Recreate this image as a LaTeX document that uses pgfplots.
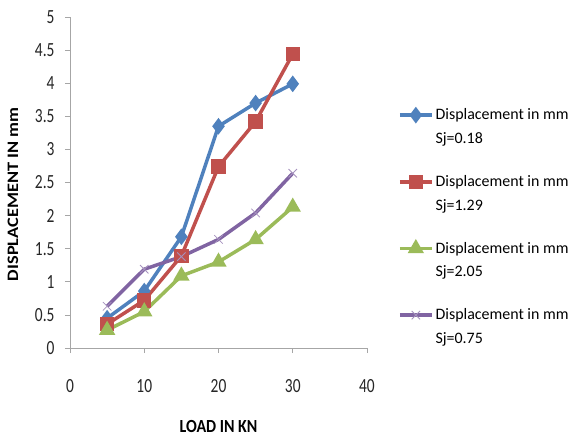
\documentclass[border=0pt]{standalone}
\usepackage{pgfplots}
\pgfplotsset{compat=1.18}
\usepackage{fontspec}
\setmainfont{Carlito}
\definecolor{cblue}{HTML}{4F81BD}
\definecolor{cred}{HTML}{C0504D}
\definecolor{cgreen}{HTML}{9BBB59}
\definecolor{cpurple}{HTML}{8064A2}
\begin{document}
\begin{tikzpicture}
\path[use as bounding box] (-70bp,-89bp) rectangle (501bp,348bp);
\begin{axis}[
  scale only axis,
  width=297bp, height=331bp,
  xmin=0, xmax=40, ymin=0, ymax=5,
  xtick={0,10,20,30,40},
  ytick={0,0.5,1,1.5,2,2.5,3,3.5,4,4.5,5},
  axis lines*=left,
  axis line style={draw=gray!70, line width=0.8pt},
  tick align=outside,
  major tick length=5bp,
  tick style={draw=gray!70, line width=0.8pt},
  /pgf/number format/assume math mode=true,
  ticklabel style={font=\fontsize{15.5}{18}\selectfont, text=black!85, yscale=1.3},
  xticklabel style={yshift=-17bp},
  yticklabel style={xshift=-7bp},
  xlabel={\textbf{LOAD IN KN}},
  ylabel={\textbf{DISPLACEMENT IN mm}},
  label style={font=\fontsize{16}{18}\selectfont},
  xlabel style={at={(axis description cs:0.5,0)}, anchor=center, yshift=-78bp, yscale=1.16},
  ylabel style={at={(axis description cs:-0.192,0.464)}, anchor=center, xscale=1.15},
  legend style={at={(1.094,0.735)}, anchor=north west, draw=none,
    font=\fontsize{16}{23.5}\selectfont, nodes={align=left},
    row sep=26.7bp, cells={anchor=west}},
  legend cell align=left,
  legend image code/.code={\draw[yshift=11.75bp, mark repeat=2,mark phase=2] plot coordinates {(0bp,0bp)(16bp,0bp)(32bp,0bp)};},
  every axis plot/.append style={line width=3.5pt},
]
\addplot[cblue, mark=diamond*, mark size=5.5pt, mark options={solid}] coordinates {(5,0.45)(10,0.86)(15,1.68)(20,3.35)(25,3.70)(30,3.99)};
\addlegendentry{Displacement in mm\\Sj=0.18}
\addplot[cred, mark=square*, mark size=5.5pt] coordinates {(5,0.36)(10,0.72)(15,1.39)(20,2.74)(25,3.42)(30,4.44)};
\addlegendentry{Displacement in mm\\Sj=1.29}
\addplot[cgreen, mark=triangle*, mark size=6pt] coordinates {(5,0.27)(10,0.55)(15,1.09)(20,1.30)(25,1.64)(30,2.13)};
\addlegendentry{Displacement in mm\\Sj=2.05}
\addplot[cpurple, mark=x, mark size=6pt, mark options={line width=0.8pt, draw=cpurple!70}] coordinates {(5,0.63)(10,1.19)(15,1.38)(20,1.64)(25,2.04)(30,2.64)};
\addlegendentry{Displacement in mm\\Sj=0.75}
\end{axis}
\end{tikzpicture}
\end{document}
